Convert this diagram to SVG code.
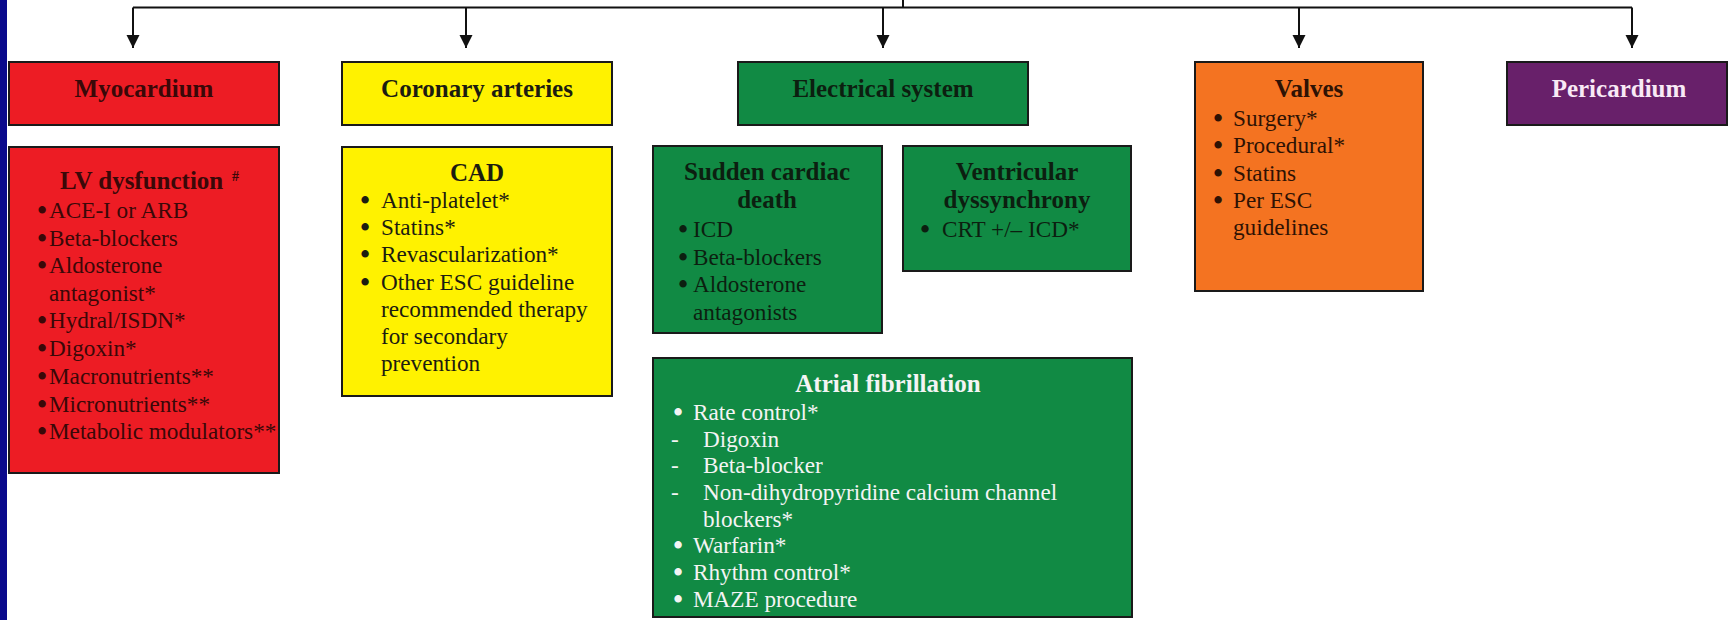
<svg xmlns="http://www.w3.org/2000/svg" width="1729" height="620" viewBox="0 0 1729 620">
  <style>
    text { font-family: "Liberation Serif", "Times New Roman", serif; }
    .box { stroke: #1a1a1a; stroke-width: 2; }
    .red { fill: #ED1C24; }
    .yellow { fill: #FFF200; }
    .green { fill: #118A44; }
    .orange { fill: #F47321; }
    .purple { fill: #68206A; }
    .h { font-weight: bold; font-size: 25px; text-anchor: middle; }
    .i { font-size: 23.2px; }
    .bl { stroke-width: 1.8; stroke-linejoin: round; }
    .tr { fill: #3a0808; }
    .tr .bl { stroke: #3a0808; }
    .ty { fill: #1c1c10; }
    .ty .bl { stroke: #1c1c10; }
    .tg { fill: #0c1f10; }
    .tg .bl { stroke: #0c1f10; }
    .to { fill: #2e1204; }
    .to .bl { stroke: #2e1204; }
    .tw { fill: #f4f4f4; }
    .tw .bl { stroke: #f4f4f4; }
    .tp { fill: #f8e9f5; }
    .conn { fill: none; stroke: #111; stroke-width: 2; }
  </style>
  <defs>
    <marker id="arrow" markerUnits="userSpaceOnUse" markerWidth="14" markerHeight="14" refX="13" refY="6.5" orient="auto" viewBox="0 0 14 14">
      <path d="M0,0 L13,6.5 L0,13 Z" fill="#111"/>
    </marker>
  </defs>

  <rect x="0" y="0" width="1729" height="620" fill="#ffffff"/>
  <rect x="0" y="0" width="7" height="620" fill="#0a0a8c"/>

  <g id="connectors">
    <path class="conn" d="M903,0 V7.5"/>
    <path class="conn" d="M133,7.5 H1632"/>
    <path class="conn" d="M133,7.5 V48" marker-end="url(#arrow)"/>
    <path class="conn" d="M466,7.5 V48" marker-end="url(#arrow)"/>
    <path class="conn" d="M883,7.5 V48" marker-end="url(#arrow)"/>
    <path class="conn" d="M1299,7.5 V48" marker-end="url(#arrow)"/>
    <path class="conn" d="M1632,7.5 V48" marker-end="url(#arrow)"/>
  </g>

  <g id="myocardium">
    <rect class="box red" x="9" y="62" width="270" height="63"/>
    <text class="h tr" x="144" y="97">Myocardium</text>
  </g>

  <g id="coronary-arteries">
    <rect class="box yellow" x="342" y="62" width="270" height="63"/>
    <text class="h ty" x="477" y="97">Coronary arteries</text>
  </g>

  <g id="electrical-system">
    <rect class="box green" x="738" y="62" width="290" height="63"/>
    <text class="h tg" x="883" y="97">Electrical system</text>
  </g>

  <g id="valves">
    <rect class="box orange" x="1195" y="62" width="228" height="229"/>
    <text class="h to" x="1309" y="97">Valves</text>
    <g class="i to">
      <text x="1214" y="126"><tspan class="bl">•</tspan><tspan x="1233">Surgery*</tspan></text>
      <text x="1214" y="153"><tspan class="bl">•</tspan><tspan x="1233">Procedural*</tspan></text>
      <text x="1214" y="181"><tspan class="bl">•</tspan><tspan x="1233">Statins</tspan></text>
      <text x="1214" y="208"><tspan class="bl">•</tspan><tspan x="1233">Per ESC</tspan></text>
      <text x="1233" y="235">guidelines</text>
    </g>
  </g>

  <g id="pericardium">
    <rect class="box purple" x="1507" y="62" width="220" height="63"/>
    <text class="h tp" x="1619" y="97">Pericardium</text>
  </g>

  <g id="lv-dysfunction">
    <rect class="box red" x="9" y="147" width="270" height="326"/>
    <text class="tr" x="60" y="189" style="font-weight:bold;font-size:25px">LV dysfunction</text>
    <text class="tr" x="232" y="181" style="font-weight:bold;font-size:14px">#</text>
    <g class="i tr">
      <text x="38" y="218"><tspan class="bl">•</tspan><tspan x="49">ACE-I or ARB</tspan></text>
      <text x="38" y="246"><tspan class="bl">•</tspan><tspan x="49">Beta-blockers</tspan></text>
      <text x="38" y="273"><tspan class="bl">•</tspan><tspan x="49">Aldosterone</tspan></text>
      <text x="49" y="301">antagonist*</text>
      <text x="38" y="328"><tspan class="bl">•</tspan><tspan x="49">Hydral/ISDN*</tspan></text>
      <text x="38" y="356"><tspan class="bl">•</tspan><tspan x="49">Digoxin*</tspan></text>
      <text x="38" y="384"><tspan class="bl">•</tspan><tspan x="49">Macronutrients**</tspan></text>
      <text x="38" y="412"><tspan class="bl">•</tspan><tspan x="49">Micronutrients**</tspan></text>
      <text x="38" y="439"><tspan class="bl">•</tspan><tspan x="49">Metabolic modulators**</tspan></text>
    </g>
  </g>

  <g id="cad">
    <rect class="box yellow" x="342" y="147" width="270" height="249"/>
    <text class="h ty" x="477" y="181">CAD</text>
    <g class="i ty">
      <text x="361" y="208"><tspan class="bl">•</tspan><tspan x="381">Anti-platelet*</tspan></text>
      <text x="361" y="235"><tspan class="bl">•</tspan><tspan x="381">Statins*</tspan></text>
      <text x="361" y="262"><tspan class="bl">•</tspan><tspan x="381">Revascularization*</tspan></text>
      <text x="361" y="290"><tspan class="bl">•</tspan><tspan x="381">Other ESC guideline</tspan></text>
      <text x="381" y="317">recommended therapy</text>
      <text x="381" y="344">for secondary</text>
      <text x="381" y="371">prevention</text>
    </g>
  </g>

  <g id="sudden-cardiac-death">
    <rect class="box green" x="653" y="146" width="229" height="187"/>
    <text class="h tg" x="767" y="180">Sudden cardiac</text>
    <text class="h tg" x="767" y="208">death</text>
    <g class="i tg">
      <text x="679" y="237"><tspan class="bl">•</tspan><tspan x="693">ICD</tspan></text>
      <text x="679" y="265"><tspan class="bl">•</tspan><tspan x="693">Beta-blockers</tspan></text>
      <text x="679" y="292"><tspan class="bl">•</tspan><tspan x="693">Aldosterone</tspan></text>
      <text x="693" y="320">antagonists</text>
    </g>
  </g>

  <g id="ventricular-dyssynchrony">
    <rect class="box green" x="903" y="146" width="228" height="125"/>
    <text class="h tg" x="1017" y="180">Ventricular</text>
    <text class="h tg" x="1017" y="208">dyssynchrony</text>
    <g class="i tg">
      <text x="921" y="237"><tspan class="bl">•</tspan><tspan x="942">CRT +/– ICD*</tspan></text>
    </g>
  </g>

  <g id="atrial-fibrillation">
    <rect class="box green" x="653" y="358" width="479" height="259"/>
    <text class="h tw" x="888" y="392">Atrial fibrillation</text>
    <g class="i tw">
      <text x="674" y="420"><tspan class="bl">•</tspan><tspan x="693">Rate control*</tspan></text>
      <text x="671" y="447">-<tspan x="703">Digoxin</tspan></text>
      <text x="671" y="473">-<tspan x="703">Beta-blocker</tspan></text>
      <text x="671" y="500">-<tspan x="703">Non-dihydropyridine calcium channel</tspan></text>
      <text x="703" y="527">blockers*</text>
      <text x="674" y="553"><tspan class="bl">•</tspan><tspan x="693">Warfarin*</tspan></text>
      <text x="674" y="580"><tspan class="bl">•</tspan><tspan x="693">Rhythm control*</tspan></text>
      <text x="674" y="607"><tspan class="bl">•</tspan><tspan x="693">MAZE procedure</tspan></text>
    </g>
  </g>
</svg>
